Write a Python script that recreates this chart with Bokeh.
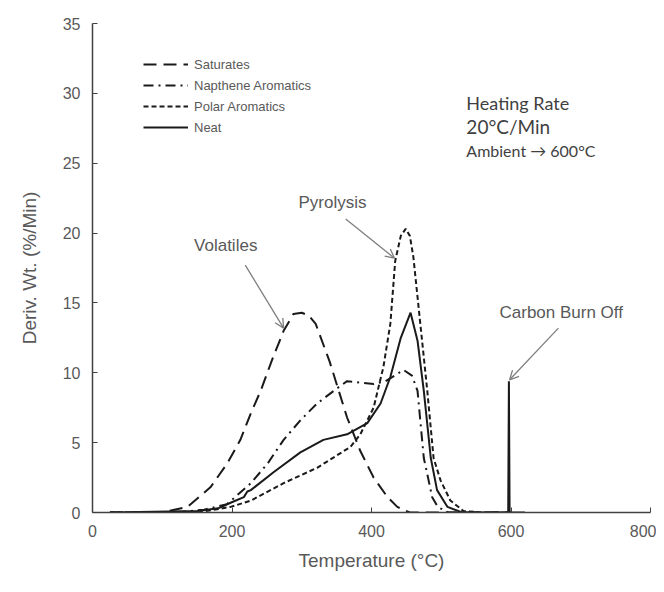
from bokeh.plotting import figure
from bokeh.models import (Range1d, FixedTicker, Legend, LegendItem, Label, Arrow, OpenHead)
from bokeh.embed import file_html
from bokeh.resources import INLINE

# ---- data ----
sat_t = [25, 100, 136, 169, 193, 212, 227, 241, 258, 274, 288, 300, 310, 320, 340, 365, 384, 403, 423, 437, 455, 600]
sat_v = [0, 0, 0.4, 1.8, 3.5, 5.2, 7.1, 8.7, 11.0, 13.0, 14.2, 14.3, 14.1, 13.5, 10.8, 6.8, 4.4, 2.5, 1.1, 0.4, 0, 0]

nap_t = [25, 120, 160, 193, 227, 251, 274, 298, 322, 351, 365, 403, 420, 446, 458, 466, 475, 487, 495, 510, 600]
nap_v = [0, 0, 0.2, 0.6, 2.1, 3.5, 5.2, 6.6, 7.8, 8.9, 9.4, 9.2, 9.4, 10.2, 9.8, 8.7, 3.9, 1.1, 0.4, 0, 0]

pol_t = [25, 150, 198, 227, 274, 322, 370, 384, 403, 417, 427, 434, 442, 449, 455, 460, 470, 480, 489, 499, 513, 532, 560, 600]
pol_v = [0, 0, 0.4, 0.85, 2.1, 3.2, 4.7, 5.6, 7.5, 10.4, 13.5, 18.0, 19.8, 20.3, 19.8, 18.3, 13.5, 8.7, 3.9, 2.3, 0.86, 0.1, 0, 0]

neat_t = [25, 150, 180, 198, 217, 222, 227, 260, 298, 331, 365, 394, 413, 427, 442, 456, 466, 475, 485, 494, 509, 530, 596, 597, 598, 620]
neat_v = [0, 0.1, 0.3, 0.7, 1.1, 1.5, 1.6, 2.9, 4.3, 5.2, 5.6, 6.4, 7.8, 9.7, 12.5, 14.3, 12.3, 8.7, 3.9, 1.6, 0.4, 0, 0, 9.4, 0, 0]

x_ticks = [0, 200, 400, 600, 800]
y_ticks = [0, 5, 10, 15, 20, 25, 30, 35]

series_names = ["Saturates", "Napthene Aromatics", "Polar Aromatics", "Neat"]

# annotation positions (data units)
ann_text = ["Volatiles", "Pyrolysis", "Carbon Burn Off"]
ann_text_xy = [(191, 19.1), (344, 22.2), (672, 14.3)]
ann_arrow_from = [(219, 17.7), (363, 21.0), (668, 13.2)]
ann_arrow_to = [(274, 13.2), (433, 18.2), (598, 9.5)]

FONT = "Liberation Sans"
DARK = "#1a1a1a"
GRAY = "#595959"

p = figure(frame_width=558, frame_height=489, output_backend="svg", toolbar_location=None,
           x_range=Range1d(0, 800), y_range=Range1d(0, 35),
           min_border_left=92, min_border_top=23, min_border_right=6, min_border_bottom=72,
           background_fill_color="white", border_fill_color="white")
p.outline_line_color = None
p.grid.visible = False

p.xaxis.ticker = FixedTicker(ticks=x_ticks)
p.yaxis.ticker = FixedTicker(ticks=y_ticks)
for ax in (p.xaxis, p.yaxis):
    ax.axis_line_color = "#404040"
    ax.axis_line_width = 1.5
    ax.major_tick_line_color = "#404040"
    ax.major_tick_in = 5
    ax.major_tick_out = 0
    ax.minor_tick_line_color = None
    ax.major_label_text_font = FONT
    ax.major_label_text_font_size = "16px"
    ax.major_label_text_color = GRAY
    ax.axis_label_text_font = FONT
    ax.axis_label_text_font_size = "19px"
    ax.axis_label_text_font_style = "normal"
    ax.axis_label_text_color = GRAY
p.xaxis.axis_label = "Temperature (°C)"
p.yaxis.axis_label = "Deriv. Wt. (%/Min)"
p.xaxis.major_label_standoff = 12
p.yaxis.major_label_standoff = 12
p.xaxis.axis_label_standoff = 10
p.yaxis.axis_label_standoff = 20

r_sat = p.line(sat_t, sat_v, line_color=DARK, line_width=2, line_dash="13 7")
r_nap = p.line(nap_t, nap_v, line_color=DARK, line_width=2, line_dash="10 5 2 5")
r_pol = p.line(pol_t, pol_v, line_color=DARK, line_width=2, line_dash="5 3")
r_neat = p.line(neat_t, neat_v, line_color=DARK, line_width=2)

legend = Legend(items=[LegendItem(label=n, renderers=[r]) for n, r in
                       zip(series_names, [r_sat, r_nap, r_pol, r_neat])],
                location=(51, 375), orientation="vertical",
                border_line_color=None, background_fill_alpha=0,
                padding=0, margin=0, spacing=1,
                glyph_width=45, glyph_height=20, label_height=20, label_standoff=6,
                label_text_font=FONT, label_text_font_size="13px", label_text_color=GRAY)
p.add_layout(legend)

for txt, (tx, ty), (fx, fy), (ex, ey) in zip(ann_text, ann_text_xy, ann_arrow_from, ann_arrow_to):
    p.add_layout(Label(x=tx, y=ty, text=txt, text_align="center", text_baseline="middle",
                       text_font=FONT, text_font_size="17px", text_color=GRAY))
    p.add_layout(Arrow(x_start=fx, y_start=fy, x_end=ex, y_end=ey,
                       line_color="#7f7f7f", line_width=1.3,
                       end=OpenHead(size=9, line_color="#7f7f7f", line_width=1.3)))

info = [("Heating Rate", 29.3, "18px"), ("20°C/Min", 27.6, "19px"), ("Ambient \u2192 600°C", 25.9, "16px")]
for txt, yy, fs in info:
    p.add_layout(Label(x=536, y=yy, text=txt, text_align="left", text_baseline="middle",
                       text_font="Lato", text_font_size=fs, text_color="#3f3f3f"))

open("out.html", "w").write(file_html(p, INLINE))
